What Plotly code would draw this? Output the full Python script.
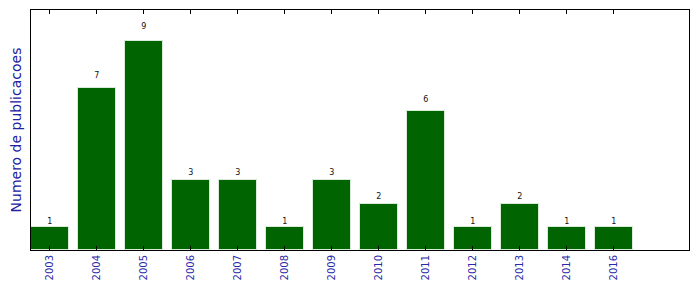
import plotly.graph_objects as go

years = ["2003", "2004", "2005", "2006", "2007", "2008", "2009", "2010", "2011", "2012", "2013", "2014", "2016"]
counts = [1, 7, 9, 3, 3, 1, 3, 2, 6, 1, 2, 1, 1]

pos = [i + 0.4 for i in range(len(years))]
label_y = [c * 1.05 for c in counts]

fig = go.Figure()
fig.add_trace(go.Bar(
    x=pos, y=counts, width=0.8,
    marker=dict(color="#006400", line=dict(color="#d8ead8", width=1)),
    showlegend=False, hoverinfo="skip",
))
fig.add_trace(go.Scatter(
    x=pos, y=label_y, mode="text", text=[str(c) for c in counts],
    textposition="top center",
    textfont=dict(family="DejaVu Sans", size=8, color="#111111"),
    showlegend=False, hoverinfo="skip",
))

fig.update_layout(
    width=699, height=292,
    margin=dict(l=31, r=10, t=10, b=42),
    paper_bgcolor="white", plot_bgcolor="white",
    font=dict(family="DejaVu Sans"),
    bargap=0,
)
fig.update_xaxes(
    range=[0, 14], tickmode="array", tickvals=pos, ticktext=years,
    tickangle=-90, tickfont=dict(size=10, color="#2a2aa8"),
    ticks="inside", ticklen=4, tickcolor="black",
    showline=True, linecolor="black", linewidth=1, mirror="allticks",
    showgrid=False, zeroline=False,
)
fig.update_yaxes(
    range=[0, 10.35], showticklabels=False, ticks="",
    showline=True, linecolor="black", linewidth=1, mirror=True,
    showgrid=False, zeroline=False,
    title=dict(text="Numero de publicacoes", font=dict(size=14, color="#2020a0"), standoff=5),
)

fig.write_html("out.html")
